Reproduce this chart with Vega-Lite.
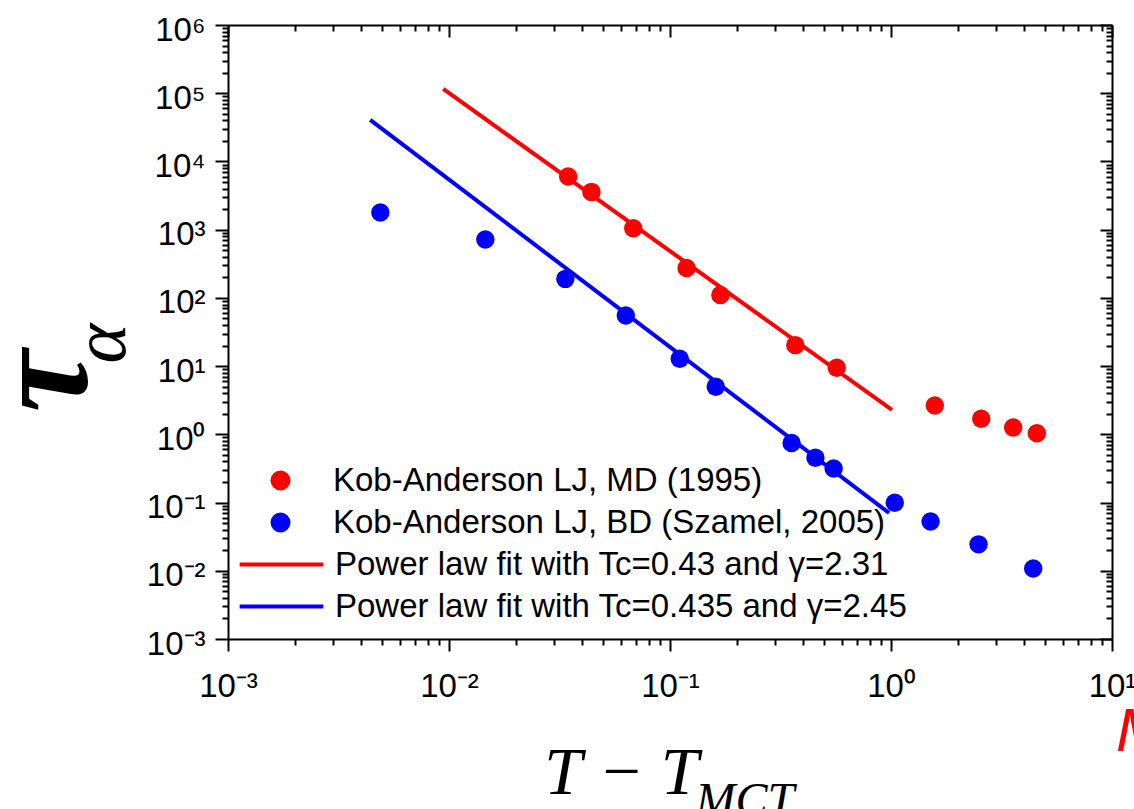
{
  "$schema": "https://vega.github.io/schema/vega-lite/v6.json",
  "width": 884,
  "height": 614,
  "autosize": "none",
  "padding": {"left": 228, "top": 25, "right": 22, "bottom": 170},
  "background": "white",
  "config": {"view": {"stroke": null}, "font": "Liberation Sans"},
  "title": {"text": "M", "color": "#ff0000", "font": "Liberation Sans", "fontStyle": "italic", "fontWeight": "normal", "fontSize": 62, "orient": "bottom", "anchor": "end", "frame": "group", "align": "left", "dx": 4, "dy": -127},
  "datasets": {
    "points": [
      {"dT": 0.0346, "tau": 6000, "series": "Kob-Anderson LJ, MD (1995)"},
      {"dT": 0.0441, "tau": 3580, "series": "Kob-Anderson LJ, MD (1995)"},
      {"dT": 0.0682, "tau": 1050, "series": "Kob-Anderson LJ, MD (1995)"},
      {"dT": 0.1188, "tau": 275, "series": "Kob-Anderson LJ, MD (1995)"},
      {"dT": 0.169, "tau": 110, "series": "Kob-Anderson LJ, MD (1995)"},
      {"dT": 0.369, "tau": 20.3, "series": "Kob-Anderson LJ, MD (1995)"},
      {"dT": 0.568, "tau": 9.44, "series": "Kob-Anderson LJ, MD (1995)"},
      {"dT": 1.578, "tau": 2.65, "series": "Kob-Anderson LJ, MD (1995)"},
      {"dT": 2.56, "tau": 1.69, "series": "Kob-Anderson LJ, MD (1995)"},
      {"dT": 3.57, "tau": 1.26, "series": "Kob-Anderson LJ, MD (1995)"},
      {"dT": 4.57, "tau": 1.04, "series": "Kob-Anderson LJ, MD (1995)"},
      {"dT": 0.00489, "tau": 1780, "series": "Kob-Anderson LJ, BD (Szamel, 2005)"},
      {"dT": 0.0146, "tau": 716, "series": "Kob-Anderson LJ, BD (Szamel, 2005)"},
      {"dT": 0.0336, "tau": 190, "series": "Kob-Anderson LJ, BD (Szamel, 2005)"},
      {"dT": 0.0631, "tau": 55.1, "series": "Kob-Anderson LJ, BD (Szamel, 2005)"},
      {"dT": 0.1107, "tau": 12.8, "series": "Kob-Anderson LJ, BD (Szamel, 2005)"},
      {"dT": 0.161, "tau": 4.98, "series": "Kob-Anderson LJ, BD (Szamel, 2005)"},
      {"dT": 0.355, "tau": 0.745, "series": "Kob-Anderson LJ, BD (Szamel, 2005)"},
      {"dT": 0.455, "tau": 0.454, "series": "Kob-Anderson LJ, BD (Szamel, 2005)"},
      {"dT": 0.55, "tau": 0.316, "series": "Kob-Anderson LJ, BD (Szamel, 2005)"},
      {"dT": 1.04, "tau": 0.0993, "series": "Kob-Anderson LJ, BD (Szamel, 2005)"},
      {"dT": 1.51, "tau": 0.0529, "series": "Kob-Anderson LJ, BD (Szamel, 2005)"},
      {"dT": 2.49, "tau": 0.0244, "series": "Kob-Anderson LJ, BD (Szamel, 2005)"},
      {"dT": 4.4, "tau": 0.0108, "series": "Kob-Anderson LJ, BD (Szamel, 2005)"}
    ],
    "fits": [
      {"dT": 0.00942, "tau": 115400, "series": "Power law fit with Tc=0.43 and γ=2.31"},
      {"dT": 1.01, "tau": 2.29, "series": "Power law fit with Tc=0.43 and γ=2.31"},
      {"dT": 0.0044, "tau": 40600, "series": "Power law fit with Tc=0.435 and γ=2.45"},
      {"dT": 0.98, "tau": 0.0703, "series": "Power law fit with Tc=0.435 and γ=2.45"}
    ]
  },
  "layer": [
    {
      "data": {"name": "points"},
      "mark": {"type": "circle", "size": 340, "opacity": 1},
      "encoding": {
        "x": {
          "field": "dT", "type": "quantitative",
          "scale": {"type": "log", "domain": [0.001, 10], "nice": false},
          "axis": {
            "orient": "bottom",
            "values": [0.001,0.002,0.003,0.004,0.005,0.006,0.007,0.008,0.009,0.01,0.02,0.03,0.04,0.05,0.06,0.07,0.08,0.09,0.1,0.2,0.3,0.4,0.5,0.6,0.7,0.8,0.9,1,2,3,4,5,6,7,8,9,10],
            "labelExpr": "abs(log(datum.value)/LN10-round(log(datum.value)/LN10))<1e-6 ? '10'+replace(replace(replace(replace(replace(replace(replace(replace(''+round(log(datum.value)/LN10),'-','⁻'),'0','⁰'),'1','¹'),'2','²'),'3','³'),'4','⁴'),'5','⁵'),'6','⁶') : ''",
            "labelFont": "Liberation Sans", "labelFontSize": 33, "labelColor": "black",
            "labelFlush": false, "labelOverlap": false, "labelPadding": 19,
            "tickColor": "black", "tickWidth": 2,
            "tickSize": {"condition": {"test": "abs(log(datum.value)/LN10-round(log(datum.value)/LN10))<1e-6", "value": 12}, "value": 6},
            "domainColor": "black", "domainWidth": 2, "grid": false,
            "title": "T − T", "titleFont": "Liberation Serif", "titleFontStyle": "italic", "titleFontWeight": "normal", "titleFontSize": 68, "titleColor": "black",
            "titleX": 393, "titleY": 154, "titleAlign": "center", "titleBaseline": "alphabetic"
          }
        },
        "y": {
          "field": "tau", "type": "quantitative",
          "scale": {"type": "log", "domain": [0.001, 1000000], "nice": false},
          "axis": {
            "orient": "left",
            "values": [0.001,0.002,0.003,0.004,0.005,0.006,0.007,0.008,0.009,0.01,0.02,0.03,0.04,0.05,0.06,0.07,0.08,0.09,0.1,0.2,0.3,0.4,0.5,0.6,0.7,0.8,0.9,1,2,3,4,5,6,7,8,9,10,20,30,40,50,60,70,80,90,100,200,300,400,500,600,700,800,900,1000,2000,3000,4000,5000,6000,7000,8000,9000,10000,20000,30000,40000,50000,60000,70000,80000,90000,100000,200000,300000,400000,500000,600000,700000,800000,900000,1000000],
            "labelExpr": "abs(log(datum.value)/LN10-round(log(datum.value)/LN10))<1e-6 ? '10'+replace(replace(replace(replace(replace(replace(replace(replace(''+round(log(datum.value)/LN10),'-','⁻'),'0','⁰'),'1','¹'),'2','²'),'3','³'),'4','⁴'),'5','⁵'),'6','⁶') : ''",
            "labelFont": "Liberation Sans", "labelFontSize": 33, "labelColor": "black",
            "labelFlush": false, "labelOverlap": false, "labelPadding": 10, "labelOffset": 5,
            "tickColor": "black", "tickWidth": 2,
            "tickSize": {"condition": {"test": "abs(log(datum.value)/LN10-round(log(datum.value)/LN10))<1e-6", "value": 13}, "value": 6},
            "domainColor": "black", "domainWidth": 2, "grid": false,
            "title": "τ", "titleFont": "Liberation Serif", "titleFontStyle": "italic", "titleFontWeight": "bold", "titleFontSize": 140, "titleColor": "black",
            "titleAngle": -90, "titleX": -142, "titleY": 356, "titleAlign": "center", "titleBaseline": "alphabetic"
          }
        },
        "color": {
          "field": "series", "type": "nominal",
          "scale": {
            "domain": ["Kob-Anderson LJ, MD (1995)", "Kob-Anderson LJ, BD (Szamel, 2005)"],
            "range": ["#ff0000", "#0000ff"]
          },
          "legend": {
            "orient": "none", "legendX": 36, "legendY": 439, "title": null, "padding": 0,
            "labelFont": "Liberation Sans", "labelFontSize": 33, "labelColor": "black", "labelOffset": 36, "labelLimit": 0,
            "symbolType": "circle", "symbolSize": 400, "rowPadding": 8, "symbolOpacity": 1
          }
        }
      }
    },
    {
      "data": {"name": "fits"},
      "mark": {"type": "line", "strokeWidth": 4},
      "encoding": {
        "x": {
          "field": "dT", "type": "quantitative",
          "scale": {"type": "log", "domain": [0.001, 10], "nice": false},
          "axis": {
            "orient": "top",
            "values": [0.001,0.002,0.003,0.004,0.005,0.006,0.007,0.008,0.009,0.01,0.02,0.03,0.04,0.05,0.06,0.07,0.08,0.09,0.1,0.2,0.3,0.4,0.5,0.6,0.7,0.8,0.9,1,2,3,4,5,6,7,8,9,10],
            "labels": false,
            "tickColor": "black", "tickWidth": 2,
            "tickSize": {"condition": {"test": "abs(log(datum.value)/LN10-round(log(datum.value)/LN10))<1e-6", "value": -12}, "value": -6},
            "domainColor": "black", "domainWidth": 2, "grid": false,
            "title": "MCT", "titleFont": "Liberation Serif", "titleFontStyle": "italic", "titleFontWeight": "normal", "titleFontSize": 48, "titleColor": "black",
            "titleX": 467, "titleY": 790, "titleAlign": "left", "titleBaseline": "alphabetic"
          }
        },
        "y": {
          "field": "tau", "type": "quantitative",
          "scale": {"type": "log", "domain": [0.001, 1000000], "nice": false},
          "axis": {
            "orient": "right",
            "values": [0.001,0.002,0.003,0.004,0.005,0.006,0.007,0.008,0.009,0.01,0.02,0.03,0.04,0.05,0.06,0.07,0.08,0.09,0.1,0.2,0.3,0.4,0.5,0.6,0.7,0.8,0.9,1,2,3,4,5,6,7,8,9,10,20,30,40,50,60,70,80,90,100,200,300,400,500,600,700,800,900,1000,2000,3000,4000,5000,6000,7000,8000,9000,10000,20000,30000,40000,50000,60000,70000,80000,90000,100000,200000,300000,400000,500000,600000,700000,800000,900000,1000000],
            "labels": false,
            "tickColor": "black", "tickWidth": 2,
            "tickSize": {"condition": {"test": "abs(log(datum.value)/LN10-round(log(datum.value)/LN10))<1e-6", "value": -12}, "value": -6},
            "domainColor": "black", "domainWidth": 2, "grid": false,
            "title": "α", "titleFont": "Liberation Serif", "titleFontStyle": "italic", "titleFontWeight": "normal", "titleFontSize": 76, "titleColor": "black",
            "titleAngle": -90, "titleX": -988, "titleY": 318, "titleAlign": "center", "titleBaseline": "alphabetic"
          }
        },
        "color": {
          "field": "series", "type": "nominal",
          "scale": {
            "domain": ["Power law fit with Tc=0.43 and γ=2.31", "Power law fit with Tc=0.435 and γ=2.45"],
            "range": ["#ff0000", "#0000ff"]
          },
          "legend": {
            "orient": "none", "legendX": 37, "legendY": 523, "title": null, "padding": 0,
            "labelFont": "Liberation Sans", "labelFontSize": 33, "labelColor": "black", "labelOffset": 37, "labelLimit": 0,
            "symbolType": "M-4.5,0H4.5", "symbolSize": 346, "symbolStrokeWidth": 4, "rowPadding": 8
          }
        }
      }
    }
  ],
  "resolve": {"axis": {"x": "independent", "y": "independent"}, "scale": {"color": "independent"}}
}
